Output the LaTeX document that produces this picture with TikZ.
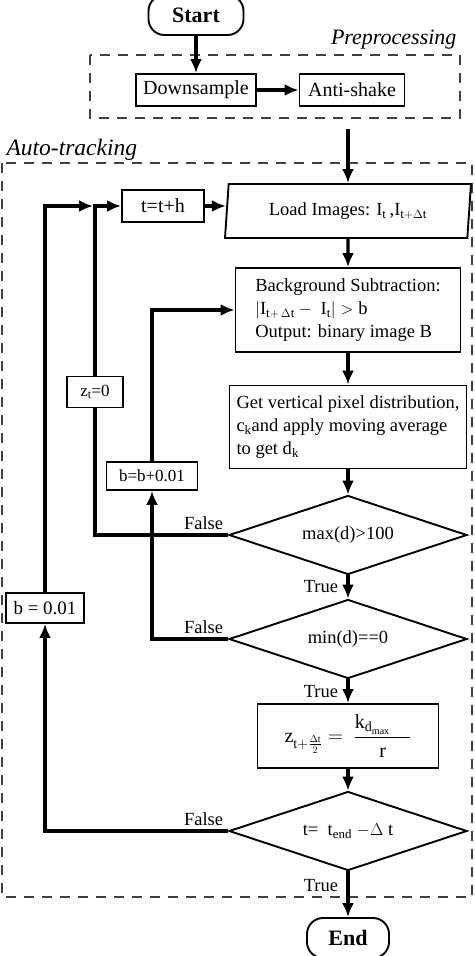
\documentclass[tikz,border=0pt]{standalone}
\usepackage{amsmath}
\usepackage{fontspec}
\setmainfont{Liberation Serif}
\usetikzlibrary{shapes.geometric,arrows.meta}

\begin{document}
\begin{tikzpicture}[x=1pt,y=-1pt,font=\fontsize{18.5}{23}\selectfont]
\tikzset{block/.style = {shape=rectangle,draw,line width=1.9pt,inner sep=2pt,align=left}}
\tikzset{terminal/.style = {block,rounded corners=16pt,font=\fontsize{22}{26}\selectfont\bfseries}}
\tikzset{io/.style = {shape=trapezium,draw,line width=1.9pt,trapezium left angle=80,trapezium right angle=100,trapezium stretches body,inner sep=2pt}}
\tikzset{decision/.style = {shape=diamond,draw,line width=1.9pt,aspect=3,inner sep=0pt,minimum width=238pt,minimum height=79pt}}
\tikzset{edge/.style = {->,> = {Latex[length=14pt,width=12pt]},line width=3.2pt}}
\tikzset{link/.style = {line width=3.2pt}}
\tikzset{group/.style = {draw=black!75,line width=1.4pt,dash pattern=on 10pt off 8pt}}
\tikzset{big/.style = {font=\fontsize{20}{24}\selectfont}}
\tikzset{small/.style = {font=\fontsize{17}{20}\selectfont}}
\useasboundingbox (0,0) rectangle (474,956);
% frames
\draw[group] (90,55) rectangle (460,118);
\draw[group] (2,163) rectangle (472,897);
\node[anchor=east,font=\fontsize{22}{26}\selectfont\itshape] (prelabel) at (460,40) {Preprocessing};
\node[anchor=west,font=\fontsize{23.5}{28}\selectfont\itshape] (autolabel) at (3,150) {Auto-tracking};
% nodes
\node[terminal,minimum width=95pt,minimum height=40pt] (start) at (196,15) {Start};
\node[block,big,minimum width=120pt,minimum height=32pt] (down) at (196,90) {Downsample};
\node[block,big,minimum width=105pt,minimum height=32pt] (anti) at (352,90) {Anti-shake};
\coordinate (preout) at (348,129);
\node[block,big,minimum width=82pt,minimum height=32pt] (tth) at (163,206) {t=t+h};
\node[io,minimum width=246pt,minimum height=54pt] (load) at (348,211) {Load Images: I$_\mathrm{t}$\,,I$_{\mathrm{t}+\Delta\mathrm{t}}$};
\node[block,minimum width=225pt,minimum height=84pt] (bg) at (348,310) {Background Subtraction:\\$|\mathrm{I}_{\mathrm{t}+\,\Delta\mathrm{t}}-\ \mathrm{I}_\mathrm{t}|>\mathrm{b}$\\Output: binary image B};
\node[block,minimum width=237pt,minimum height=83pt] (gv) at (348,427) {Get vertical pixel distribution,\\c$_\mathrm{k}$and apply moving average\\to get d$_\mathrm{k}$};
\node[block,small,minimum width=56pt,minimum height=31pt] (zt) at (95,392) {z$_\mathrm{t}$=0};
\node[block,small,minimum width=91pt,minimum height=28pt] (binc) at (152,476) {b=b+0.01};
\node[decision] (max) at (348,535) {max(d)>100};
\node[decision] (min) at (348,639) {min(d)==0};
\node[block,font=\fontsize{19}{22}\selectfont,minimum width=78pt,minimum height=30pt] (bzero) at (45,608) {b = 0.01};
\node[block,minimum width=181pt,minimum height=64pt,font=\fontsize{20}{24}\selectfont] (zpos) at (348,736) {$\mathrm{z}_{\mathrm{t}+\frac{\Delta\mathrm{t}}{2}}=\ \dfrac{\mathrm{k}_{\mathrm{d}_{\mathrm{max}}}\quad}{\mathrm{r}}$};
\node[decision] (tend) at (348,831) {t=\ \ t$_\mathrm{end}$ $-\Delta$\ t};
\node[terminal,minimum width=82pt,minimum height=40pt] (end) at (348,938) {End};
\coordinate (join) at (93,206);
% connectors
\draw[edge] (start) to (down);
\draw[edge] (down) to (anti);
\draw[edge] (preout) to (load);
\draw[edge] (tth.east) to (tth.east -| load.west);
\draw[edge] (load) to (bg);
\draw[edge] (bg) to (gv);
\draw[edge] (gv) to (max);
\draw[edge] (zpos) to (tend);
\path[edge]
(max) edge node[left,xshift=-5pt] {True} (min)
(min) edge node[left,xshift=-5pt] {True} (zpos)
(tend) edge node[left,xshift=-5pt,pos=0.3] {True} (end);
\draw[link] (max.west) -| node[above left,pos=0] {False} (zt.south);
\draw[edge] (zt.north) |- (tth.west);
\draw[edge] (min.west) -| node[above left,pos=0] {False} (binc.south);
\draw[edge] (binc.north) |- (bg.west);
\draw[edge] (tend.west) -| node[above left,pos=0] {False} (bzero.south);
\draw[edge] (bzero.north) |- (join);
\end{tikzpicture}
\end{document}
